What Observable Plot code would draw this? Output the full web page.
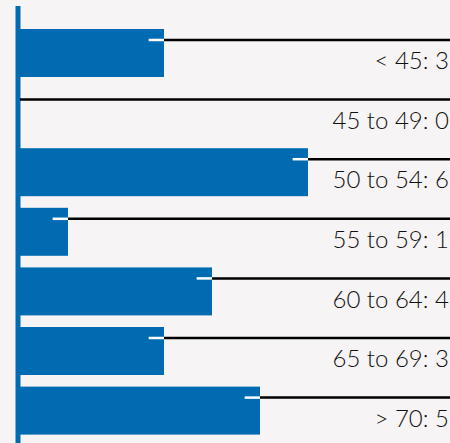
<!DOCTYPE html>
<html>
<head>
<meta charset="utf-8">
<script src="https://cdn.jsdelivr.net/npm/d3@7"></script>
<script src="https://cdn.jsdelivr.net/npm/@observablehq/plot@0.6"></script>
<style>
  html, body { margin: 0; padding: 0; background: #f6f4f4; }
  #chart svg { display: block; }
</style>
</head>
<body>
<div id="chart"></div>
<script>
const categories = ["< 45", "45 to 49", "50 to 54", "55 to 59", "60 to 64", "65 to 69", "> 70"];
const counts = [3, 0, 6, 1, 4, 3, 5];

const data = categories.map((c, i) => ({category: c, value: counts[i], label: `${c}: ${counts[i]}`}));
const xMax = 9;

const chart = Plot.plot({
  width: 450,
  height: 443,
  margin: 0,
  style: {background: "#f6f4f4", fontFamily: "Lato, sans-serif"},
  x: {domain: [0, xMax], range: [20, 20 + 48 * xMax], axis: null},
  y: {domain: categories, range: [29, 434.6], paddingInner: 0.195, paddingOuter: 0, align: 0, round: false, axis: null},
  marks: [
    Plot.barX(data, {x: "value", y: "category", fill: "#006bb1"}),
    Plot.ruleX([0], {stroke: "#006bb1", strokeWidth: 5, dx: -2.5, insetTop: 6}),
    Plot.ruleY(data, {y: "category", x1: "value", x2: xMax, stroke: "#000", strokeWidth: 2.5, dy: -13.5}),
    Plot.ruleY(data.filter(d => d.value > 0), {y: "category", x1: d => d.value - 0.32, x2: "value", stroke: "#fff", strokeWidth: 2.5, dy: -13.5}),
    Plot.text(data, {y: "category", text: "label", frameAnchor: "right", textAnchor: "end", dx: -1.5, dy: 8, fontSize: 24, fontWeight: 300, fill: "#111"})
  ]
});
document.getElementById("chart").append(chart);
</script>
</body>
</html>
